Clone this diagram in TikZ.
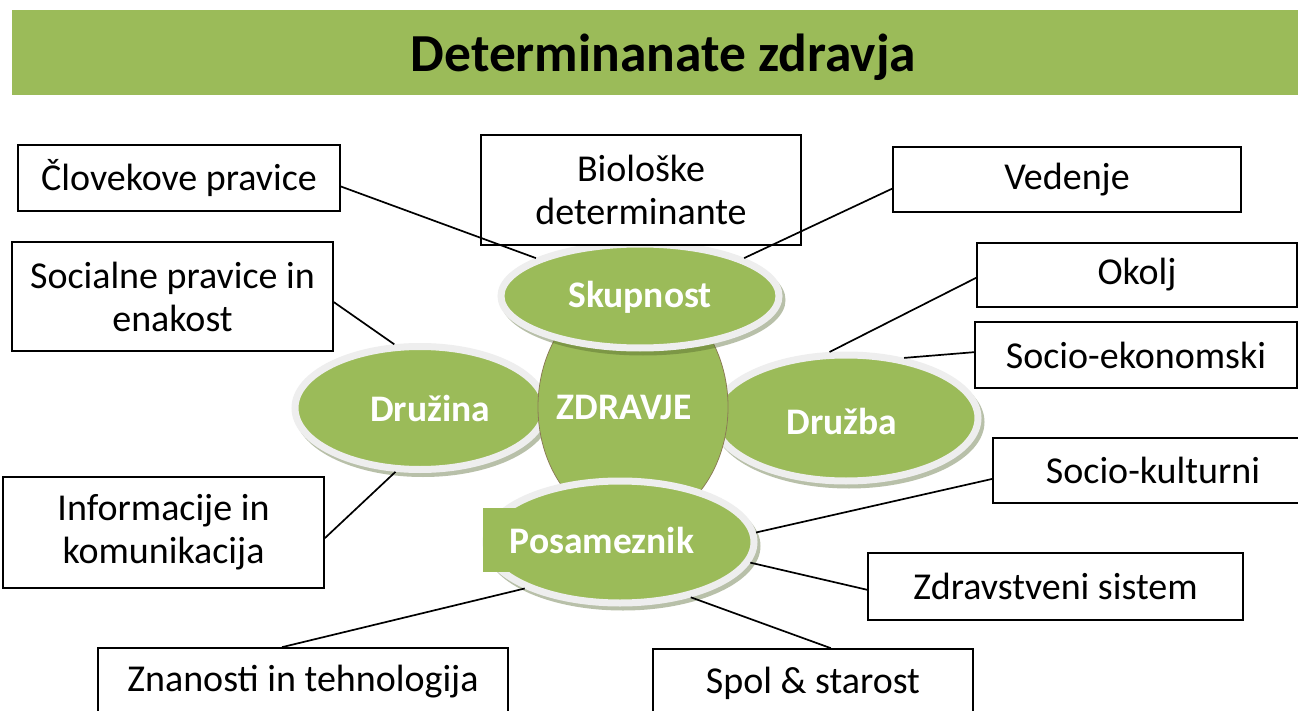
\documentclass[tikz,border=0pt]{standalone}
\usepackage{fontspec}
\setmainfont{Carlito}
\usetikzlibrary{shapes.geometric}
\definecolor{lg}{HTML}{9BBB59}
\definecolor{rimcol}{HTML}{EEEEEE}
\definecolor{shd}{HTML}{4F6228}
\definecolor{brd}{HTML}{8B7B55}
\begin{document}
\begin{tikzpicture}[x=1pt,y=-1pt,
  box/.style={draw=black, line width=1.7pt, fill=white, inner sep=0pt, align=center,
              font=\fontsize{38}{43}\selectfont},
  bubble/.style={ellipse, draw=rimcol, line width=7pt, fill=lg, inner sep=0pt},
  btext/.style={text=white, inner sep=0pt, font=\fontsize{37.5}{43}\selectfont\bfseries},
  shadowfill/.style={fill=shd, fill opacity=0.4},
  link/.style={draw=black, line width=1.7pt}]
\clip (0,0) rectangle (1298,711);
\fill[white] (0,0) rectangle (1298,711);
% title bar
\fill[lg] (12,10) rectangle (1298,95);
\node[font=\fontsize{53.5}{60}\selectfont\bfseries, anchor=base, inner sep=0pt] (title) at (663.5,72) {Determinanate zdravja};
% side bubbles (under the centre)
\fill[shadowfill] (423,412) ellipse [x radius=128.5, y radius=65];
\node[bubble, minimum width=250, minimum height=123] (dr) at (420,408) {};
\fill[shadowfill] (849,422) ellipse [x radius=135.5, y radius=66.5];
\node[bubble, minimum width=264, minimum height=126] (db) at (846,418) {};
% centre
\node[ellipse, fill=lg, draw=brd, line width=0.8pt, inner sep=0pt, minimum width=190, minimum height=238] (zd) at (633,407) {};
\fill[lg] (zd.center) ellipse [x radius=94.2, y radius=118.2];
% top and bottom bubbles
\fill[shadowfill] (643,300) ellipse [x radius=142.5, y radius=55.5];
\node[bubble, minimum width=278, minimum height=104] (sk) at (640,296) {};
\fill[shadowfill] (623,546) ellipse [x radius=137.5, y radius=64.5];
\node[bubble, minimum width=268, minimum height=122] (pos) at (620,542) {};
\fill[lg] (483,508) rectangle (519,572);
% bubble labels
\node[btext] (drT) at (430,408) {Družina};
\node[btext] (dbT) at (842,421) {Družba};
\node[btext] (zdT) at (624,407) {ZDRAVJE};
\node[btext] (skT) at (640,297) {Skupnost};
\node[btext] (posT) at (602,540) {Posameznik};
% boxes
\node[box, minimum width=322, minimum height=66] (clov) at (179,178) {Človekove pravice};
\node[box, minimum width=320, minimum height=110] (bio) at (641,190) {Biološke\\determinante};
\node[box, minimum width=348, minimum height=65] (ved) at (1067,179.5) {Vedenje};
\node[box, minimum width=321, minimum height=109] (soc) at (172.5,296.5) {Socialne pravice in\\enakost};
\node[box, minimum width=320, minimum height=64] (okolj) at (1137,275) {Okolj};
\node[box, minimum width=322, minimum height=66] (sek) at (1136,355) {Socio-ekonomski};
\node[box, minimum width=320, minimum height=65] (skul) at (1153,470.5) {Socio-kulturni};
\node[box, minimum width=321, minimum height=111] (info) at (163.5,532.5) {Informacije in\\komunikacija};
\node[box, minimum width=375, minimum height=67] (zdr) at (1055.5,586.5) {Zdravstveni sistem};
\node[box, minimum width=410, minimum height=68] (znan) at (303,682) {Znanosti in tehnologija};
\node[box, minimum width=320, minimum height=68] (spol) at (813,683) {Spol \& starost};
% connectors
\draw[link] (clov.-3.5) -- (sk.160);
\draw[link] (ved.183.5) -- (sk.20);
\draw[link] (soc.-2.3) -- (dr.112);
\draw[link] (info.-2.7) -- (dr.249);
\draw[link] (znan.121.2) -- (pos.206);
\draw[link] (okolj.181.8) -- (db.104);
\draw[link] (sek.179.6) -- (db.46);
\draw[link] (skul.183.4) -- (pos.4);
\draw[link] (zdr.181.1) -- (pos.-9);
\draw[link] (spol.63.4) -- (pos.-38);
\end{tikzpicture}
\end{document}
